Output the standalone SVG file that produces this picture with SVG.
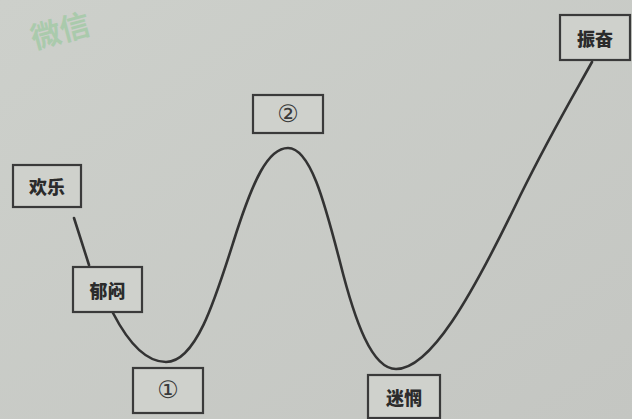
<svg xmlns="http://www.w3.org/2000/svg" width="632" height="419" viewBox="0 0 632 419">
<style>
.box{fill:#cfd1cc;stroke:#3a3a3a;stroke-width:2.2}
.lbl{font-family:"Noto Sans CJK SC","Noto Sans CJK JP",sans-serif;font-size:18px;font-weight:900;fill:#2b2b2b;text-anchor:middle;dominant-baseline:central}
.num{font-family:"DejaVu Sans","Noto Sans CJK SC",sans-serif;font-size:24px;fill:#3a3a3a;text-anchor:middle;dominant-baseline:central}
.curve{fill:none;stroke:#333;stroke-width:2.6;stroke-linecap:round}
</style>
<defs>
<linearGradient id="bg" x1="0" y1="0" x2="1" y2="1">
<stop offset="0" stop-color="#cdd0cb"/>
<stop offset="1" stop-color="#c4c6c2"/>
</linearGradient>
</defs>
<rect width="632" height="419" fill="url(#bg)"/>
<text x="30" y="42" transform="rotate(-15 60 30)" font-family="Noto Sans CJK SC,sans-serif" font-size="30" font-weight="bold" fill="#9cc9a0" opacity="0.7">微信</text>
<g id="connectors">
<path class="curve" d="M74,218 L89,265"/>
<path class="curve" d="M113,313 C128,342 145,362 166,362 C196,362 215,300 234,240 C253,180 268,148 288,148 C310,148 324,200 340,262 C355,322 372,369 396,369 C430,369 470,300 520,196 C550,135 572,98 592,62"/>
</g>
<g id="n-huanle"><rect class="box" x="13" y="165" width="68" height="42"/><text class="lbl" x="47" y="186">欢乐</text></g>
<g id="n-yumen"><rect class="box" x="73" y="267" width="69" height="45"/><text class="lbl" x="107.5" y="289.5">郁闷</text></g>
<g id="n-1"><rect class="box" x="133" y="368" width="70" height="45"/><text class="num" x="168" y="390">①</text></g>
<g id="n-2"><rect class="box" x="253" y="95" width="70" height="38"/><text class="num" x="288" y="114">②</text></g>
<g id="n-miwang"><rect class="box" x="368" y="375" width="72" height="43"/><text class="lbl" x="404" y="396.5">迷惘</text></g>
<g id="n-zhenfen"><rect class="box" x="560" y="15" width="70" height="45"/><text class="lbl" x="595" y="37.5">振奋</text></g>
</svg>
